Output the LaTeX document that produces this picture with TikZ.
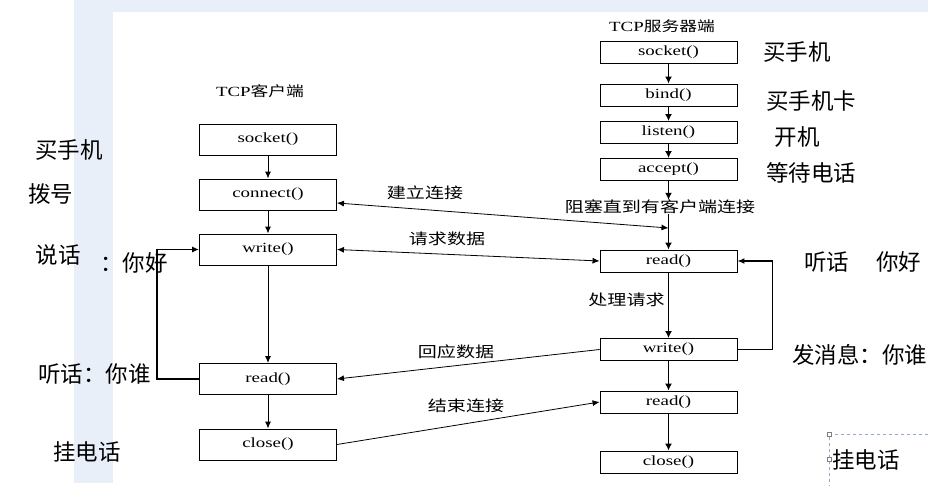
\documentclass[tikz,border=0pt]{standalone}
\usepackage{graphicx}
\usepackage{fontspec}
\setmainfont{Liberation Serif}
\newfontfamily\cjk{Noto Sans CJK SC}
\usetikzlibrary{arrows.meta}
\definecolor{bgblue}{RGB}{233,239,248}
\definecolor{selgray}{RGB}{150,170,195}
\newcommand{\fnt}[1]{\scalebox{1.35}[1]{\fontsize{14}{14}\selectfont #1}}
\newcommand{\lbl}[1]{\scalebox{1.27}[1]{\cjk\fontsize{15}{15}\selectfont #1}}
\begin{document}
\begin{tikzpicture}[x=1pt,y=-1pt,
  box/.style={draw,line width=0.9pt,minimum width=137pt,inner sep=0pt},
  cbox/.style={box,minimum height=31pt},
  sbox/.style={box,minimum height=22pt},
  arr/.style={-{Latex[length=7pt,width=6pt]},line width=1pt},
  darr/.style={{Latex[length=7pt,width=6pt]}-{Latex[length=7pt,width=6pt]},line width=0.8pt},
  sarr/.style={-{Latex[length=7pt,width=7pt]},line width=1.5pt},
  lab/.style={inner sep=0pt},
  big/.style={font=\cjk\fontsize{22.5}{22.5}\selectfont,inner sep=0pt}
]
% background
\useasboundingbox (0,0) rectangle (928,486);
\fill[white] (0,0) rectangle (928,486);
\fill[bgblue] (74,0) rectangle (928,483);
\fill[white] (113,12) rectangle (928,486);

% titles
\node[lab] (ctitle) at (260,91) {\fnt{TCP}\lbl{\fontsize{14}{14}\selectfont 客户端}};
\node[lab] (stitle) at (662,26) {\fnt{TCP}\lbl{\fontsize{14}{14}\selectfont 服务器端}};

% client boxes
\node[cbox] (csock)  at (268,139.5) {\fnt{socket()}};
\node[cbox] (cconn)  at (268,194.5) {\fnt{connect()}};
\node[cbox] (cwrite) at (268,249.5) {\fnt{write()}};
\node[cbox] (cread)  at (268,379)   {\fnt{read()}};
\node[cbox] (cclose) at (268,444.5) {\fnt{close()}};

% server boxes
\node[sbox] (ssock)   at (668.5,52)    {\fnt{socket()}};
\node[sbox] (sbind)   at (668.5,95)    {\fnt{bind()}};
\node[sbox] (slisten) at (668.5,132.5) {\fnt{listen()}};
\node[sbox] (saccept) at (668.5,169.5) {\fnt{accept()}};
\node[sbox] (sread)   at (668.5,261)   {\fnt{read()}};
\node[sbox] (swrite)  at (668.5,349.5) {\fnt{write()}};
\node[sbox] (sread2)  at (668.5,402)   {\fnt{read()}};
\node[sbox] (sclose)  at (668.5,462)   {\fnt{close()}};

% diagram labels
\node[lab] (blk) at (660,207) {\lbl{阻塞直到有客户端连接}};
\node[lab] (proc) at (626.5,300) {\lbl{处理请求}};
\node[lab] (l1) at (425,192.5) {\lbl{建立连接}};
\node[lab] (l2) at (447,239) {\lbl{请求数据}};
\node[lab] (l3) at (456,352) {\lbl{回应数据}};
\node[lab] (l4) at (466,406) {\lbl{结束连接}};

% client flow
\draw[arr] (csock) -- (cconn);
\draw[arr] (cconn) -- (cwrite);
\draw[arr] (cwrite) -- (cread);
\draw[arr] (cread) -- (cclose);
\draw[arr,line width=1.2pt] (cread.west) -- ++(-42,0) |- (cwrite.west);

% server flow
\draw[sarr] (ssock) -- (sbind);
\draw[sarr] (sbind) -- (slisten);
\draw[sarr] (slisten) -- (saccept);
\draw[sarr] (saccept.south) -- (saccept.south |- blk.north);
\draw[sarr] (saccept.south |- blk.south) -- (sread.north);
\draw[sarr] (sread) -- (swrite);
\draw[sarr] (swrite) -- (sread2);
\draw[sarr] (sread2) -- (sclose);
\draw[arr,line width=1.2pt] (swrite.east) -- ++(35,0) |- (sread.east);

% cross connections
\coordinate (jl) at (668.5,228);
\draw[darr] ([yshift=-8.5pt]cconn.east) -- (jl);
\draw[darr] (cwrite.east) -- (sread.west);
\draw[arr,line width=0.8pt] (swrite.west) -- (cread.east);
\draw[arr,line width=0.8pt] (cclose.east) -- (sread2.west);

% side annotations (left)
\node[big] (t1) at (69,150) {买手机};
\node[big] (t2) at (50.5,194.5) {拨号};
\node[big] (t3) at (58,255) {说话};
\node[big,anchor=west] (t4) at (100,263) {：你好};
\node[big,anchor=west] (t5) at (38,374) {听话：你谁};
\node[big] (t6) at (87,452) {挂电话};

% side annotations (right)
\node[big] (r1) at (797,52) {买手机};
\node[big] (r2) at (811,101) {买手机卡};
\node[big] (r3) at (797,137) {开机};
\node[big] (r4) at (811,173) {等待电话};
\node[big,anchor=west] (r5) at (804,262) {听话\hspace{27pt}你好};
\node[big,anchor=west] (r6) at (792,355) {发消息：你谁};
\node[big] (r7) at (866,460) {挂电话};

% selection frame
\draw[selgray,dashed,line width=0.6pt] (928,434) -- (829,434) -- (829,486);
\node[draw=gray,fill=white,line width=0.5pt,minimum size=4pt,inner sep=0pt] (h1) at (829,434) {};
\node[draw=gray,fill=white,line width=0.5pt,minimum size=4pt,inner sep=0pt] (h2) at (829,459) {};
\end{tikzpicture}
\end{document}
